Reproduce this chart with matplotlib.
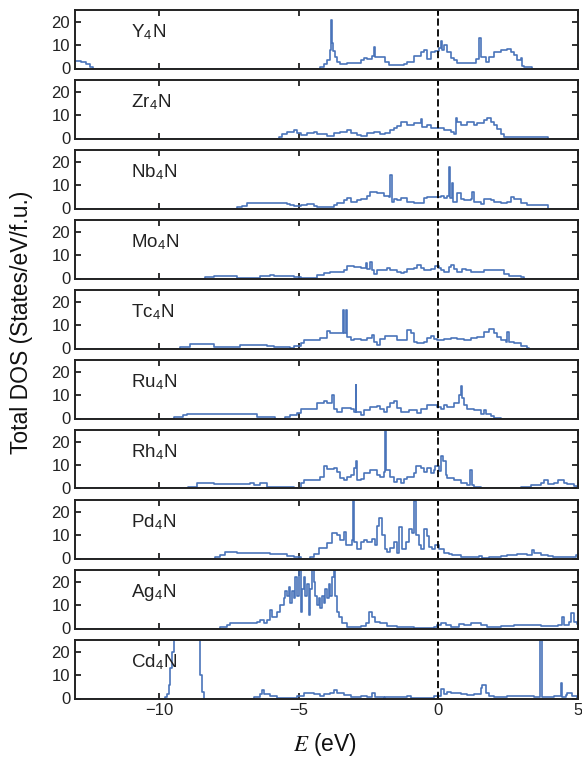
import matplotlib
matplotlib.use("Agg")
import matplotlib.pyplot as plt

plt.rcParams['font.family'] = ['Liberation Sans', 'DejaVu Sans']
plt.rcParams['mathtext.fontset'] = 'stix'

# total DOS, (energy in eV, states/eV/f.u.) drawn as steps
y4n = [(-13, 3.3), (-12.8, 2.8), (-12.6, 1.8), (-12.45, 0.8), (-12.34, 0),
       (-4.22, 0.8), (-4.10, 2.0), (-3.98, 3.5), (-3.88, 8.0), (-3.84, 21.0), (-3.80, 11.0),
       (-3.76, 7.5), (-3.68, 5.0), (-3.62, 3.0), (-3.50, 2.0), (-3.26, 2.5), (-2.78, 3.5),
       (-2.66, 4.5), (-2.54, 4.0), (-2.37, 5.5), (-2.31, 9.4), (-2.25, 5.0), (-2.19, 5.1),
       (-1.89, 3.0), (-1.77, 1.5), (-1.23, 2.0), (-1.11, 3.0), (-0.87, 5.5), (-0.63, 7.0),
       (-0.51, 8.0), (-0.39, 4.0), (-0.27, 7.0), (-0.10, 7.5), (0.02, 9.0), (0.08, 12.0),
       (0.14, 8.0), (0.20, 10.0), (0.32, 7.0), (0.44, 4.5), (0.56, 3.5), (0.68, 2.5),
       (1.34, 4.0), (1.46, 13.0), (1.52, 5.0), (1.70, 3.0), (1.82, 5.0), (2.00, 7.0),
       (2.23, 8.0), (2.47, 8.5), (2.59, 7.0), (2.71, 6.0), (2.83, 3.5), (2.95, 4.5),
       (3.01, 1.0), (3.07, 0.5), (3.37, 0), (5, 0)]
zr4n = [(-13, 0), (-5.71, 0.8), (-5.59, 2.0), (-5.41, 3.0), (-5.17, 3.5), (-5.05, 2.5),
        (-4.93, 1.5), (-4.70, 2.5), (-4.46, 3.0), (-4.34, 2.0), (-3.98, 1.0), (-3.74, 2.5),
        (-3.50, 3.0), (-3.26, 3.5), (-3.14, 2.5), (-2.90, 1.5), (-2.78, 1.0), (-2.54, 2.5),
        (-2.31, 3.0), (-2.07, 2.0), (-1.89, 2.5), (-1.71, 3.5), (-1.59, 4.5), (-1.47, 5.5),
        (-1.35, 7.0), (-1.11, 6.0), (-0.87, 6.5), (-0.63, 8.5), (-0.57, 5.0), (-0.39, 6.0),
        (-0.27, 4.5), (0.20, 3.5), (0.44, 3.0), (0.56, 2.0), (0.62, 9.0), (0.68, 7.0),
        (0.80, 6.0), (1.04, 7.0), (1.28, 6.0), (1.40, 6.5), (1.64, 8.0), (1.76, 9.0),
        (1.88, 7.0), (2.00, 6.0), (2.11, 4.0), (2.23, 2.0), (2.35, 0.5), (3.91, 0), (5, 0)]
nb4n = [(-13, 0), (-7.20, 0.5), (-7.03, 1.0), (-6.85, 2.5), (-5.41, 2.0), (-5.29, 1.5),
        (-5.17, 1.0), (-4.93, 1.5), (-4.70, 2.0), (-4.46, 1.0), (-4.34, 0.5), (-3.74, 1.5),
        (-3.62, 2.5), (-3.38, 3.5), (-3.26, 4.5), (-3.14, 3.0), (-2.90, 3.5), (-2.78, 4.0),
        (-2.54, 5.5), (-2.43, 7.0), (-2.19, 6.5), (-1.95, 5.5), (-1.77, 5.0), (-1.71, 14.5),
        (-1.65, 3.0), (-1.59, 4.0), (-1.47, 3.5), (-1.35, 4.5), (-1.11, 3.0), (-0.87, 2.5),
        (-0.51, 4.5), (-0.39, 5.0), (0.08, 5.5), (0.20, 4.5), (0.32, 5.5), (0.38, 18.0),
        (0.42, 4.5), (0.50, 11.0), (0.54, 3.0), (0.68, 6.5), (0.80, 4.0), (0.92, 3.5),
        (1.16, 4.0), (1.22, 7.0), (1.28, 3.0), (1.52, 2.0), (1.64, 4.0), (1.88, 3.5),
        (2.00, 3.0), (2.23, 2.5), (2.47, 3.0), (2.59, 5.0), (2.71, 4.0), (2.95, 2.5),
        (3.19, 1.5), (3.91, 0), (5, 0)]
mo4n = [(-13, 0), (-8.34, 0.5), (-8.04, 1.2), (-7.20, 0.3), (-6.37, 1.0), (-6.01, 1.5),
        (-5.89, 1.0), (-5.17, 0.5), (-4.93, 0.3), (-4.34, 1.5), (-4.10, 2.5), (-3.86, 3.0),
        (-3.38, 3.5), (-3.26, 5.5), (-3.02, 5.0), (-2.78, 4.5), (-2.60, 6.5), (-2.54, 4.0),
        (-2.43, 7.0), (-2.37, 3.5), (-2.31, 2.0), (-2.19, 3.5), (-1.83, 4.5), (-1.71, 3.5),
        (-1.47, 3.0), (-1.35, 2.5), (-1.23, 3.0), (-1.11, 4.0), (-0.87, 4.5), (-0.75, 6.0),
        (-0.63, 4.5), (-0.51, 3.5), (-0.27, 4.0), (-0.10, 5.5), (0.02, 4.5), (0.08, 3.5),
        (0.20, 3.0), (0.38, 5.0), (0.44, 6.0), (0.56, 4.0), (0.68, 3.0), (0.86, 4.0),
        (0.98, 3.5), (1.16, 3.0), (1.64, 3.8), (2.23, 3.5), (2.35, 2.0), (2.53, 1.0),
        (2.95, 0.5), (3.07, 0), (5, 0)]
tc4n = [(-13, 0), (-9.24, 0.5), (-8.88, 2.0), (-8.04, 0.5), (-7.08, 1.5), (-6.13, 1.0),
        (-5.89, 0.5), (-5.29, 0.3), (-5.17, 1.0), (-4.93, 2.5), (-4.81, 3.5), (-4.22, 4.5),
        (-3.98, 7.5), (-3.86, 6.8), (-3.42, 16.5), (-3.39, 6.5), (-3.30, 16.5), (-3.27, 5.0),
        (-3.14, 3.5), (-3.02, 4.0), (-2.78, 3.5), (-2.54, 4.5), (-2.37, 6.0), (-2.31, 3.0),
        (-2.19, 1.5), (-2.07, 4.0), (-1.89, 5.5), (-1.47, 3.5), (-1.11, 8.0), (-0.99, 6.5),
        (-0.87, 3.0), (-0.75, 2.5), (-0.51, 3.0), (-0.39, 4.5), (-0.27, 5.5), (-0.16, 4.0),
        (-0.04, 3.5), (0.20, 4.0), (0.44, 4.5), (0.68, 4.0), (0.92, 3.5), (1.16, 4.5),
        (1.40, 5.0), (1.64, 7.0), (1.82, 8.5), (2.00, 6.5), (2.11, 5.0), (2.23, 3.5),
        (2.41, 3.0), (2.47, 7.0), (2.53, 3.0), (2.71, 2.5), (2.95, 1.0), (3.19, 0.3),
        (3.25, 0), (5, 0)]
ru4n = [(-13, 0), (-9.47, 0.5), (-9.12, 1.5), (-9.00, 2.0), (-6.49, 0.5), (-5.83, 0),
        (-5.47, 0.5), (-5.29, 1.5), (-5.05, 2.5), (-4.93, 4.0), (-4.34, 6.5), (-4.10, 7.5),
        (-3.98, 6.5), (-3.80, 10.0), (-3.74, 4.0), (-3.62, 3.0), (-3.44, 4.5), (-3.14, 4.0),
        (-3.02, 3.0), (-2.96, 14.5), (-2.93, 3.0), (-2.78, 1.5), (-2.66, 3.5), (-2.43, 5.0),
        (-2.19, 5.5), (-2.07, 4.0), (-1.95, 3.0), (-1.83, 5.0), (-1.71, 6.5), (-1.59, 7.5),
        (-1.47, 4.5), (-1.35, 3.0), (-1.05, 3.5), (-0.75, 2.5), (-0.63, 4.0), (-0.39, 6.0),
        (-0.04, 5.0), (0.08, 4.0), (0.20, 6.0), (0.32, 5.0), (0.56, 6.5), (0.74, 10.0),
        (0.80, 14.0), (0.86, 9.0), (0.92, 6.0), (1.04, 4.0), (1.28, 3.5), (1.52, 2.0),
        (1.64, 3.5), (1.70, 2.0), (1.88, 1.0), (2.00, 0.3), (2.23, 0), (5, 0)]
rh4n = [(-13, 0), (-8.94, 0.5), (-8.64, 2.5), (-8.04, 2.0), (-6.73, 2.5), (-6.61, 1.5),
        (-6.37, 2.5), (-6.13, 0.5), (-5.17, 0.3), (-4.93, 2.5), (-4.81, 3.5), (-4.22, 5.0),
        (-4.10, 9.5), (-3.98, 8.5), (-3.74, 9.0), (-3.62, 7.0), (-3.50, 4.5), (-3.38, 3.5),
        (-3.26, 5.0), (-3.14, 6.0), (-3.02, 9.0), (-2.96, 12.0), (-2.90, 3.5), (-2.78, 4.0),
        (-2.66, 6.5), (-2.43, 8.0), (-2.19, 6.0), (-2.07, 5.0), (-1.95, 7.0), (-1.90, 24.5),
        (-1.87, 8.0), (-1.71, 5.0), (-1.59, 3.0), (-1.47, 4.0), (-1.35, 2.5), (-1.23, 4.0),
        (-1.11, 5.0), (-0.87, 6.5), (-0.81, 9.5), (-0.63, 9.0), (-0.51, 7.0), (-0.39, 9.0),
        (-0.27, 6.5), (-0.16, 8.0), (-0.10, 9.5), (0.02, 7.5), (0.08, 14.0), (0.18, 12.0),
        (0.26, 6.0), (0.32, 4.5), (0.56, 3.5), (0.80, 2.5), (1.04, 1.5), (1.14, 8.0),
        (1.20, 1.5), (1.28, 0.5), (1.52, 0.3), (1.64, 0), (2.95, 0.5), (3.31, 1.5),
        (3.67, 2.5), (3.79, 3.5), (3.91, 2.0), (4.15, 2.5), (4.27, 3.5), (4.50, 2.5),
        (4.62, 2.0), (4.86, 1.0), (4.98, 0.5), (5, 0.5)]
pd4n = [(-13, 0), (-7.98, 0.5), (-7.80, 1.5), (-7.62, 3.0), (-7.20, 2.5), (-6.01, 2.0),
        (-5.41, 1.0), (-5.17, 0.5), (-4.93, 0), (-4.58, 0.5), (-4.46, 2.0), (-4.28, 4.5),
        (-3.98, 6.5), (-3.80, 11.0), (-3.62, 10.0), (-3.50, 8.0), (-3.38, 11.5), (-3.32, 6.0),
        (-3.08, 8.0), (-3.05, 25.5), (-3.00, 7.0), (-2.90, 4.0), (-2.78, 7.0), (-2.66, 8.0),
        (-2.54, 7.0), (-2.37, 8.5), (-2.25, 6.0), (-2.19, 14.0), (-2.13, 17.5), (-2.01, 10.0),
        (-1.89, 4.0), (-1.83, 3.0), (-1.71, 4.5), (-1.59, 7.0), (-1.47, 2.5), (-1.41, 13.5),
        (-1.29, 4.0), (-1.17, 7.0), (-1.05, 12.5), (-0.93, 11.0), (-0.87, 24.5), (-0.78, 10.0),
        (-0.69, 6.0), (-0.63, 4.0), (-0.51, 12.5), (-0.39, 9.5), (-0.33, 5.0), (-0.22, 4.0),
        (-0.10, 6.0), (0.02, 4.0), (0.20, 2.5), (0.38, 2.0), (0.50, 1.5), (0.80, 0.5),
        (1.46, 1.0), (1.58, 0.3), (1.82, 0.8), (2.00, 0.5), (2.23, 1.0), (2.47, 1.5),
        (2.83, 2.0), (3.19, 1.5), (3.37, 3.5), (3.43, 2.5), (3.67, 1.5), (3.91, 1.0),
        (4.09, 0.5), (4.80, 0.5), (4.92, 1.5), (5, 1.5)]
ag4n = [(-13, 0), (-7.80, 0.5), (-7.56, 1.5), (-7.44, 2.5), (-6.73, 2.5), (-6.49, 3.0),
        (-6.37, 3.5), (-6.25, 2.5), (-6.13, 3.5), (-6.01, 8.0), (-5.95, 5.0), (-5.77, 7.0),
        (-5.65, 10.0), (-5.53, 13.0), (-5.47, 16.0), (-5.41, 14.0), (-5.35, 18.0), (-5.29, 11.0),
        (-5.23, 16.0), (-5.17, 13.0), (-5.11, 22.0), (-5.05, 14.0), (-4.99, 25.5), (-4.93, 7.0),
        (-4.87, 17.0), (-4.81, 22.0), (-4.76, 14.0), (-4.70, 19.0), (-4.64, 6.0), (-4.58, 17.0),
        (-4.52, 25.5), (-4.46, 20.0), (-4.40, 14.0), (-4.34, 10.0), (-4.28, 13.0), (-4.22, 9.0),
        (-4.16, 14.0), (-4.10, 11.0), (-4.04, 17.0), (-3.98, 13.0), (-3.92, 19.0), (-3.86, 14.0),
        (-3.80, 22.0), (-3.74, 25.5), (-3.68, 14.0), (-3.62, 7.0), (-3.56, 5.0), (-3.44, 2.5),
        (-3.26, 0.5), (-2.78, 1.0), (-2.60, 2.5), (-2.49, 7.0), (-2.37, 5.0), (-2.25, 3.0),
        (-2.07, 2.5), (-1.83, 1.0), (-1.47, 0.5), (-0.87, 0.3), (-0.16, 0.8), (-0.04, 1.5),
        (0.08, 2.5), (0.26, 1.5), (0.44, 0.5), (0.74, 2.0), (0.92, 1.5), (1.16, 2.5),
        (1.52, 1.5), (1.76, 0.5), (2.23, 1.0), (2.71, 1.5), (3.67, 1.0), (4.27, 1.5),
        (4.44, 5.0), (4.50, 1.5), (4.68, 3.0), (4.74, 6.5), (4.86, 3.0), (4.98, 2.0), (5, 2.0)]
cd4n = [(-13, 0), (-9.77, 0.5), (-9.71, 2.0), (-9.65, 6.0), (-9.59, 13.0), (-9.53, 20.0),
        (-9.47, 25.5), (-8.52, 10.0), (-8.46, 3.0), (-8.40, 0), (-6.61, 0.5), (-6.37, 2.0),
        (-6.31, 3.5), (-6.25, 2.0), (-6.01, 1.0), (-5.77, 0.3), (-5.29, 0.3), (-5.05, 1.0),
        (-4.81, 2.5), (-4.46, 2.0), (-4.22, 1.0), (-4.10, 2.0), (-3.86, 2.5), (-3.74, 3.5),
        (-3.62, 2.5), (-3.38, 1.5), (-3.14, 0.5), (-2.78, 1.0), (-2.54, 0.5), (-2.37, 2.5),
        (-2.25, 0.5), (-1.95, 0), (-1.89, 0.5), (-1.11, 1.0), (-0.99, 0.3), (-0.39, 0.3),
        (-0.16, 1.0), (0.08, 4.0), (0.20, 2.0), (0.32, 3.0), (0.44, 2.5), (0.80, 2.0),
        (1.04, 1.5), (1.28, 2.0), (1.52, 4.5), (1.58, 6.0), (1.70, 2.5), (1.82, 1.0),
        (2.00, 0.5), (2.47, 1.0), (3.43, 0.5), (3.65, 25.5), (3.70, 0.5), (4.15, 1.0),
        (4.38, 6.5), (4.44, 0.5), (4.56, 1.5), (4.62, 2.5), (4.80, 1.0), (4.98, 0.3), (5, 0.3)]

names = ['Y', 'Zr', 'Nb', 'Mo', 'Tc', 'Ru', 'Rh', 'Pd', 'Ag', 'Cd']
dos_data = [y4n, zr4n, nb4n, mo4n, tc4n, ru4n, rh4n, pd4n, ag4n, cd4n]
xticks = [-10, -5, 0, 5]
yticks = [0, 10, 20]

W, H = 582, 761
fig = plt.figure(figsize=(W / 100, H / 100), dpi=100)

for i in range(len(names)):
    top = 10 + 70 * i
    h = 58.5
    ax = fig.add_axes([75 / W, 1 - (top + h) / H, 503 / W, h / H])
    e = [p[0] for p in dos_data[i]]
    d = [p[1] for p in dos_data[i]]
    ax.plot(e, d, color='#4a74ba', lw=1.2, drawstyle='steps-post')
    ax.axvline(0, color='black', lw=1.3, ls=(0, (4, 2)))
    ax.set_xlim(-13, 5)
    ax.set_ylim(0, 25.1)
    ax.set_xticks(xticks)
    ax.set_yticks(yticks)
    ax.tick_params(direction='in', top=True, right=True, length=4.5, width=1.3,
                   labelsize=12, colors='#222222')
    for s in ax.spines.values():
        s.set_linewidth(1.4)
        s.set_color('#222222')
    if i < len(names) - 1:
        ax.set_xticklabels([])
    ax.text(-11, 15.5, names[i] + r'$_{\mathregular{4}}$N', fontsize=13.5,
            ha='left', va='center', color='#222222')

fig.text(22 / W, 1 - 322 / H, 'Total DOS (States/eV/f.u.)', rotation=90,
         ha='center', va='center', fontsize=16.5, color='#111111')
fig.text(325 / W, 1 - 745 / H, r'$E$ (eV)', ha='center', va='center', fontsize=16.5,
         color='#111111')

fig.savefig('out.png', dpi=100)
